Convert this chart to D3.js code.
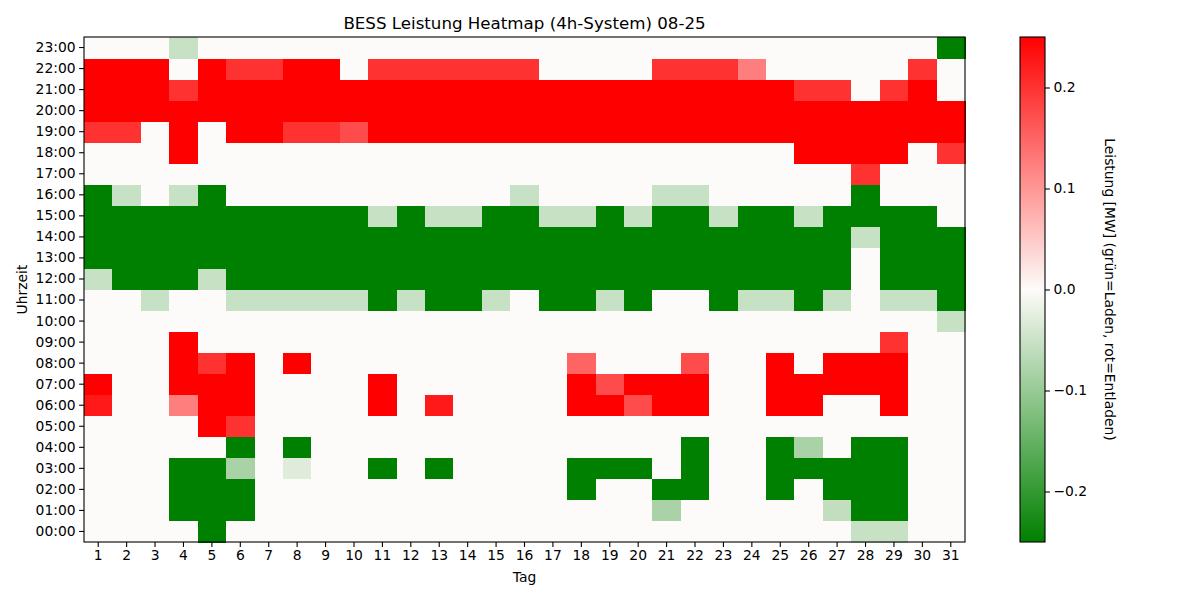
<!DOCTYPE html>
<html>
<head>
<meta charset="utf-8">
<script src="https://cdn.jsdelivr.net/npm/d3@7"></script>
<style>
  html, body { margin: 0; padding: 0; background: #ffffff; }
  svg text { font-family: "DejaVu Sans", sans-serif; fill: #000; }
</style>
</head>
<body>
<svg id="chart" width="1200" height="600"></svg>
<script>
// ---- data ----
const R = 0.25, r1 = 0.225, r2 = 0.2, r3 = 0.175, r4 = 0.15, r5 = 0.125;
const G = -0.25, g1 = -0.053, g2 = -0.083, g3 = -0.03, g4 = -0.058;

const days = d3.range(1, 32);
const hourLabels = d3.range(0, 24).map(h => String(h).padStart(2, "0") + ":00");
const colorTicks = [-0.2, -0.1, 0.0, 0.1, 0.2];

const h23 = [0,0,0,g1,0,0,0,0,0,0,0,0,0,0,0,0,0,0,0,0,0,0,0,0,0,0,0,0,0,0,G];
const h22 = [R,R,R,0,R,r2,r2,R,R,0,r2,r2,r2,r2,r2,r2,0,0,0,0,r2,r2,r2,r5,0,0,0,0,0,r2,0];
const h21 = [R,R,R,r2,R,R,R,R,R,R,R,R,R,R,R,R,R,R,R,R,R,R,R,R,R,r2,r2,0,r2,R,0];
const h20 = [R,R,R,R,R,R,R,R,R,R,R,R,R,R,R,R,R,R,R,R,R,R,R,R,R,R,R,R,R,R,R];
const h19 = [r2,r2,0,R,0,R,R,r2,r2,r3,R,R,R,R,R,R,R,R,R,R,R,R,R,R,R,R,R,R,R,R,R];
const h18 = [0,0,0,R,0,0,0,0,0,0,0,0,0,0,0,0,0,0,0,0,0,0,0,0,0,R,R,R,R,0,r2];
const h17 = [0,0,0,0,0,0,0,0,0,0,0,0,0,0,0,0,0,0,0,0,0,0,0,0,0,0,0,r2,0,0,0];
const h16 = [G,g1,0,g1,G,0,0,0,0,0,0,0,0,0,0,g1,0,0,0,0,g1,g1,0,0,0,0,0,G,0,0,0];
const h15 = [G,G,G,G,G,G,G,G,G,G,g1,G,g1,g1,G,G,g1,g1,G,g1,G,G,g1,G,G,g1,G,G,G,G,0];
const h14 = [G,G,G,G,G,G,G,G,G,G,G,G,G,G,G,G,G,G,G,G,G,G,G,G,G,G,G,g1,G,G,G];
const h13 = [G,G,G,G,G,G,G,G,G,G,G,G,G,G,G,G,G,G,G,G,G,G,G,G,G,G,G,0,G,G,G];
const h12 = [g1,G,G,G,g1,G,G,G,G,G,G,G,G,G,G,G,G,G,G,G,G,G,G,G,G,G,G,0,G,G,G];
const h11 = [0,0,g1,0,0,g1,g1,g1,g1,g1,G,g1,G,G,g1,0,G,G,g1,G,0,0,G,g1,g1,G,g1,0,g1,g1,G];
const h10 = [0,0,0,0,0,0,0,0,0,0,0,0,0,0,0,0,0,0,0,0,0,0,0,0,0,0,0,0,0,0,g1];
const h09 = [0,0,0,R,0,0,0,0,0,0,0,0,0,0,0,0,0,0,0,0,0,0,0,0,0,0,0,0,r2,0,0];
const h08 = [0,0,0,R,r2,R,0,R,0,0,0,0,0,0,0,0,0,r4,0,0,0,r3,0,0,R,0,R,R,R,0,0];
const h07 = [R,0,0,R,R,R,0,0,0,0,R,0,0,0,0,0,0,R,r3,R,R,R,0,0,R,R,R,R,R,0,0];
const h06 = [r1,0,0,r5,R,R,0,0,0,0,R,0,r1,0,0,0,0,R,R,r3,R,R,0,0,R,R,0,0,R,0,0];
const h05 = [0,0,0,0,R,r2,0,0,0,0,0,0,0,0,0,0,0,0,0,0,0,0,0,0,0,0,0,0,0,0,0];
const h04 = [0,0,0,0,0,G,0,G,0,0,0,0,0,0,0,0,0,0,0,0,0,G,0,0,G,g2,0,G,G,0,0];
const h03 = [0,0,0,G,G,g2,0,g3,0,0,G,0,G,0,0,0,0,G,G,G,0,G,0,0,G,G,G,G,G,0,0];
const h02 = [0,0,0,G,G,G,0,0,0,0,0,0,0,0,0,0,0,G,0,0,G,G,0,0,G,0,G,G,G,0,0];
const h01 = [0,0,0,G,G,G,0,0,0,0,0,0,0,0,0,0,0,0,0,0,g2,0,0,0,0,0,g4,G,G,0,0];
const h00 = [0,0,0,0,G,0,0,0,0,0,0,0,0,0,0,0,0,0,0,0,0,0,0,0,0,0,0,g1,g1,0,0];

const hourRows = [h00,h01,h02,h03,h04,h05,h06,h07,h08,h09,h10,h11,h12,h13,h14,h15,h16,h17,h18,h19,h20,h21,h22,h23];

// ---- layout ----
const svg = d3.select("#chart");
const pLeft = 84, pRight = 965, pTop = 37, pBottom = 542;
const cbLeft = 1020, cbRight = 1045;
const fs = 13.89;

const x = d3.scaleBand().domain(days).range([pLeft, pRight]).padding(0);
const y = d3.scaleBand().domain(hourLabels).range([pBottom, pTop]).padding(0);
const color = d3.scaleLinear().domain([-0.25, 0, 0.25]).range(["#008000", "#fdfbf9", "#ff0000"]).clamp(true);

const cells = [];
hourRows.forEach((row, hi) => row.forEach((v, di) => cells.push({day: days[di], hour: hourLabels[hi], v})));

svg.append("g").selectAll("rect").data(cells).join("rect")
  .attr("x", d => x(d.day))
  .attr("y", d => y(d.hour))
  .attr("width", x.bandwidth() + 0.5)
  .attr("height", y.bandwidth() + 0.5)
  .attr("fill", d => color(d.v))
  .attr("shape-rendering", "crispEdges");

// frame
svg.append("rect").attr("x", pLeft).attr("y", pTop).attr("width", pRight - pLeft).attr("height", pBottom - pTop)
  .attr("fill", "none").attr("stroke", "#000").attr("stroke-width", 1.1);

// axes
const xAxis = svg.append("g").attr("transform", `translate(0,${pBottom})`)
  .call(d3.axisBottom(x).tickSize(4.9).tickPadding(3.5));
const yAxis = svg.append("g").attr("transform", `translate(${pLeft},0)`)
  .call(d3.axisLeft(y).tickSize(4.9).tickPadding(3.5));
[xAxis, yAxis].forEach(a => {
  a.select(".domain").remove();
  a.selectAll(".tick line").attr("stroke", "#000").attr("stroke-width", 1.1);
  a.selectAll(".tick text").attr("font-family", "DejaVu Sans").attr("font-size", fs).attr("fill", "#000");
});

// title & labels
svg.append("text").attr("x", (pLeft + pRight) / 2).attr("y", 29).attr("text-anchor", "middle")
  .attr("font-size", 16.67).text("BESS Leistung Heatmap (4h-System) 08-25");
svg.append("text").attr("x", (pLeft + pRight) / 2).attr("y", 582).attr("text-anchor", "middle")
  .attr("font-size", fs).text("Tag");
svg.append("text").attr("transform", `translate(27,${(pTop + pBottom) / 2}) rotate(-90)`).attr("text-anchor", "middle")
  .attr("font-size", fs).text("Uhrzeit");

// colorbar
const cy = d3.scaleLinear().domain([-0.25, 0.25]).range([pBottom, pTop]);
const defs = svg.append("defs");
const grad = defs.append("linearGradient").attr("id", "cbgrad").attr("x1", 0).attr("y1", 1).attr("x2", 0).attr("y2", 0);
d3.range(0, 1.0001, 0.05).forEach(t => {
  grad.append("stop").attr("offset", t).attr("stop-color", color(-0.25 + 0.5 * t));
});
svg.append("rect").attr("x", cbLeft).attr("y", pTop).attr("width", cbRight - cbLeft).attr("height", pBottom - pTop)
  .attr("fill", "url(#cbgrad)").attr("stroke", "#000").attr("stroke-width", 1.1);
const cbAxis = svg.append("g").attr("transform", `translate(${cbRight},0)`)
  .call(d3.axisRight(cy).tickValues(colorTicks).tickSize(4.9).tickPadding(3.5)
    .tickFormat(d => (d < 0 ? "\u2212" : "") + Math.abs(d).toFixed(1)));
cbAxis.select(".domain").remove();
cbAxis.selectAll(".tick line").attr("stroke", "#000").attr("stroke-width", 1.1);
cbAxis.selectAll(".tick text").attr("font-family", "DejaVu Sans").attr("font-size", fs).attr("fill", "#000");
svg.append("text").attr("transform", `translate(1105,${(pTop + pBottom) / 2}) rotate(90)`).attr("text-anchor", "middle")
  .attr("font-size", fs).text("Leistung [MW] (grün=Laden, rot=Entladen)");
</script>
</body>
</html>
